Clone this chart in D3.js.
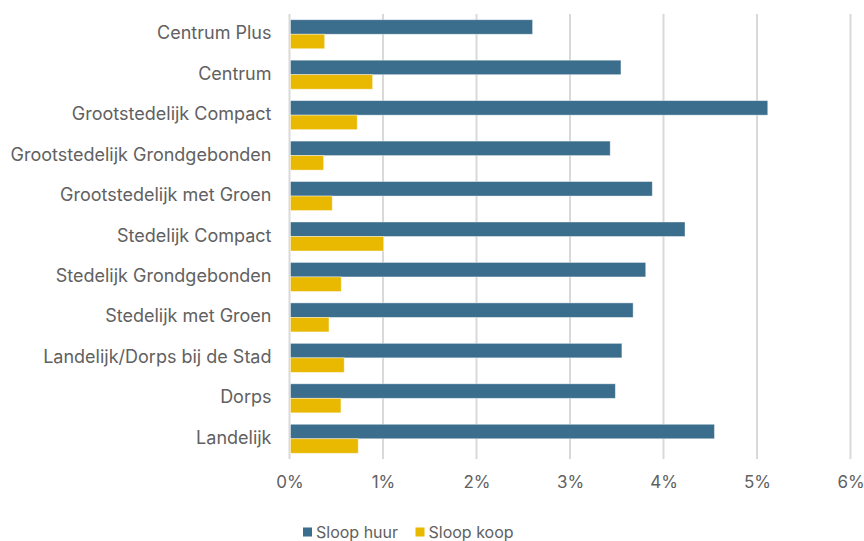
<!DOCTYPE html>
<html>
<head>
<meta charset="utf-8">
<script src="https://cdn.jsdelivr.net/npm/d3@7"></script>
<style>
  html, body { margin: 0; padding: 0; background: #fff; }
  svg { display: block; font-family: Inter, "Noto Sans", sans-serif; }
</style>
</head>
<body>
<svg id="chart" width="864" height="541"></svg>
<script>
// Categories (top to bottom) and the two demolition shares per category
const categories = [
  "Centrum Plus",
  "Centrum",
  "Grootstedelijk Compact",
  "Grootstedelijk Grondgebonden",
  "Grootstedelijk met Groen",
  "Stedelijk Compact",
  "Stedelijk Grondgebonden",
  "Stedelijk met Groen",
  "Landelijk/Dorps bij de Stad",
  "Dorps",
  "Landelijk"
];
const sloopHuur = [2.60, 3.545, 5.115, 3.43, 3.88, 4.23, 3.81, 3.675, 3.555, 3.485, 4.545];
const sloopKoop = [0.376, 0.889, 0.724, 0.365, 0.457, 1.006, 0.553, 0.422, 0.585, 0.55, 0.735];
const seriesNames = ["Sloop huur", "Sloop koop"];
const seriesColors = ["#3b6d8d", "#e9b800"];
const xTicks = [0, 1, 2, 3, 4, 5, 6];

const svg = d3.select("#chart");
const margin = { left: 289.5, right: 13.5, top: 14, bottom: 82 };
const width = 864, height = 541;

const x = d3.scaleLinear().domain([0, 6]).range([margin.left, width - margin.right]);
const y = d3.scaleBand().domain(categories).range([margin.top, height - margin.bottom]).paddingInner(0.283).paddingOuter(0.1415);
const sub = d3.scaleBand().domain(seriesNames).range([0, y.bandwidth()]);

// Vertical gridlines
svg.append("g")
  .selectAll("line")
  .data(xTicks)
  .join("line")
  .attr("x1", d => x(d)).attr("x2", d => x(d))
  .attr("y1", margin.top).attr("y2", height - margin.bottom)
  .attr("stroke", "#d9d9d9")
  .attr("stroke-width", 2);

// Bars
const rows = categories.map((c, i) => ({ c, values: [sloopHuur[i], sloopKoop[i]] }));
const groups = svg.append("g").selectAll("g")
  .data(rows)
  .join("g")
  .attr("transform", d => `translate(0,${y(d.c)})`);

groups.selectAll("rect")
  .data(d => d.values.map((v, k) => ({ v, k })))
  .join("rect")
  .attr("x", x(0) + 1)
  .attr("y", d => sub(seriesNames[d.k]))
  .attr("width", d => x(d.v) - x(0) - 1)
  .attr("height", sub.bandwidth())
  .attr("fill", d => seriesColors[d.k])
  .attr("stroke", "#ffffff")
  .attr("stroke-opacity", 0.5)
  .attr("stroke-width", 0.8);

// Category axis labels
const yAxis = d3.axisLeft(y).tickSize(0).tickPadding(18);
const yg = svg.append("g").attr("transform", `translate(${x(0)},0)`).call(yAxis);
yg.select(".domain").remove();
yg.selectAll("text")
  .attr("font-family", "Inter, sans-serif")
  .attr("font-size", 18)
  .attr("fill", "#616161")
  .attr("dy", "0.28em");

// Percentage axis labels
const xAxis = d3.axisBottom(x).tickValues(xTicks).tickFormat(d => d + "%").tickSize(0).tickPadding(17);
const xg = svg.append("g").attr("transform", `translate(0,${height - margin.bottom})`).call(xAxis);
xg.select(".domain").remove();
xg.selectAll("text")
  .attr("font-family", "Inter, sans-serif")
  .attr("font-size", 17)
  .attr("fill", "#616161");

// Legend
const legend = svg.append("g").attr("transform", "translate(303,532)");
const legendX = [0, 112.5];
seriesNames.forEach((name, i) => {
  const g = legend.append("g").attr("transform", `translate(${legendX[i]},0)`);
  g.append("rect").attr("x", 0).attr("y", -4.5).attr("width", 9).attr("height", 9).attr("fill", seriesColors[i]);
  g.append("text")
    .attr("x", 13).attr("y", 0).attr("dy", "0.35em")
    .attr("font-family", "Inter, sans-serif")
    .attr("font-size", 16)
    .attr("fill", "#616161")
    .text(name);
});
</script>
</body>
</html>
